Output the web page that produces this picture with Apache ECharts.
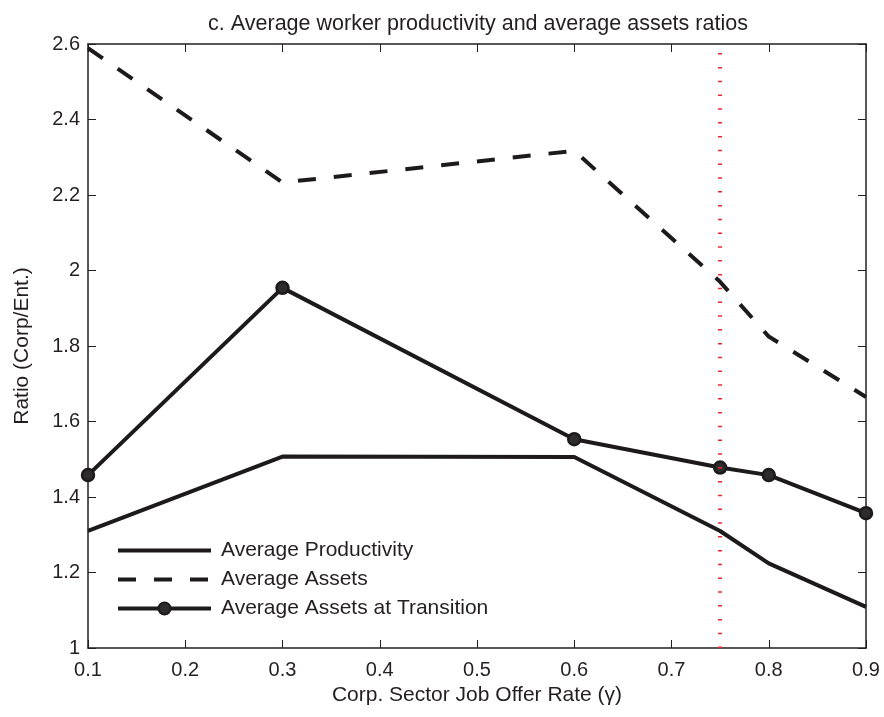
<!DOCTYPE html>
<html>
<head>
<meta charset="utf-8">
<script src="https://cdn.jsdelivr.net/npm/echarts@6/dist/echarts.min.js"></script>
<style>
html,body{margin:0;padding:0;background:#fff;}
#chart{width:884px;height:717px;}
</style>
</head>
<body>
<div id="chart"></div>
<script>
// Data
const titleText = 'c. Average worker productivity and average assets ratios';
const xAxisName = 'Corp. Sector Job Offer Rate (\u03B3)';
const yAxisName = 'Ratio (Corp/Ent.)';
const seriesNames = ['Average Productivity', 'Average Assets', 'Average Assets at Transition'];

const xProductivity = [0.1, 0.3, 0.6, 0.75, 0.8, 0.9];
const yProductivity = [1.31, 1.507, 1.506, 1.31, 1.224, 1.109];

const xAssets = [0.1, 0.3, 0.6, 0.75, 0.8, 0.9];
const yAssets = [2.589, 2.233, 2.317, 1.970, 1.825, 1.665];

const xTransition = [0.1, 0.3, 0.6, 0.75, 0.8, 0.9];
const yTransition = [1.458, 1.954, 1.553, 1.478, 1.458, 1.357];

const thresholdX = 0.75;

const xMin = 0.1, xMax = 0.9, xInterval = 0.1;
const yMin = 1, yMax = 2.6, yInterval = 0.2;

function pairs(xs, ys) { return xs.map((x, i) => [x, ys[i]]); }

const ink = '#231f20';
const lineInk = '#1c1a1b';
const font = 'Liberation Sans, Arial, Helvetica, sans-serif';

const chart = echarts.init(document.getElementById('chart'), null, {renderer: 'canvas'});

const baseX = {
  type: 'value', min: xMin, max: xMax, interval: xInterval,
  axisLine: {show: true, onZero: false, lineStyle: {color: ink, width: 1.5}},
  axisTick: {show: true, inside: true, length: 8, lineStyle: {color: ink, width: 1}},
  splitLine: {show: false}
};
const baseY = {
  type: 'value', min: yMin, max: yMax, interval: yInterval,
  axisLine: {show: true, onZero: false, lineStyle: {color: ink, width: 1.5}},
  axisTick: {show: true, inside: true, length: 8, lineStyle: {color: ink, width: 1}},
  splitLine: {show: false}
};

const hiddenSymbol = {color: 'rgba(0,0,0,0)', borderColor: 'rgba(0,0,0,0)', borderWidth: 0};

const option = {
  backgroundColor: '#ffffff',
  animation: false,
  title: {
    text: titleText,
    left: 473, top: 8, textAlign: 'center',
    textStyle: {fontFamily: font, fontSize: 21.5, fontWeight: 'normal', color: ink}
  },
  grid: {left: 88, right: 18, top: 44, bottom: 69, containLabel: false},
  legend: {
    data: [
      {name: seriesNames[0], itemStyle: hiddenSymbol, lineStyle: {width: 4, color: lineInk}},
      {name: seriesNames[1], itemStyle: hiddenSymbol, lineStyle: {width: 4, color: lineInk, type: [18, 18], cap: 'butt'}},
      {name: seriesNames[2], lineStyle: {width: 4, color: lineInk}}
    ],
    orient: 'vertical',
    left: 116, top: 540, padding: 0,
    itemWidth: 93, itemHeight: 15, itemGap: 8,
    textStyle: {fontFamily: font, fontSize: 21, color: ink, padding: [0, 0, 0, 5]}
  },
  xAxis: [
    Object.assign({}, baseX, {
      position: 'bottom',
      name: xAxisName, nameLocation: 'middle', nameGap: 31,
      nameTextStyle: {fontFamily: font, fontSize: 21, color: ink},
      axisLabel: {show: true, margin: 12, fontFamily: font, fontSize: 20, color: ink}
    }),
    Object.assign({}, baseX, {position: 'top', axisLabel: {show: false}})
  ],
  yAxis: [
    Object.assign({}, baseY, {
      position: 'left',
      name: yAxisName, nameLocation: 'middle', nameGap: 55,
      nameTextStyle: {fontFamily: font, fontSize: 21, color: ink},
      axisLabel: {show: true, margin: 8, fontFamily: font, fontSize: 20, color: ink}
    }),
    Object.assign({}, baseY, {position: 'right', axisLabel: {show: false}})
  ],
  series: [
    {
      name: seriesNames[0], type: 'line', data: pairs(xProductivity, yProductivity),
      symbol: 'none', color: lineInk,
      lineStyle: {color: lineInk, width: 4}, z: 3
    },
    {
      name: seriesNames[1], type: 'line', data: pairs(xAssets, yAssets),
      symbol: 'none', color: lineInk,
      lineStyle: {color: lineInk, width: 4, type: [18, 18], cap: 'butt'}, z: 3
    },
    {
      name: seriesNames[2], type: 'line', data: pairs(xTransition, yTransition),
      symbol: 'circle', symbolSize: 12, showSymbol: true, color: lineInk,
      itemStyle: {color: '#2e2c2d', borderColor: lineInk, borderWidth: 2.5},
      lineStyle: {color: lineInk, width: 4}, z: 4
    },
    {
      name: 'threshold', type: 'line', data: [], symbol: 'none',
      markLine: {
        silent: true, symbol: ['none', 'none'],
        label: {show: false},
        lineStyle: {color: '#e8282e', width: 4, type: [1.5, 12.3], cap: 'butt'},
        data: [{xAxis: thresholdX}]
      },
      z: 2
    }
  ]
};
chart.setOption(option);
</script>
</body>
</html>
